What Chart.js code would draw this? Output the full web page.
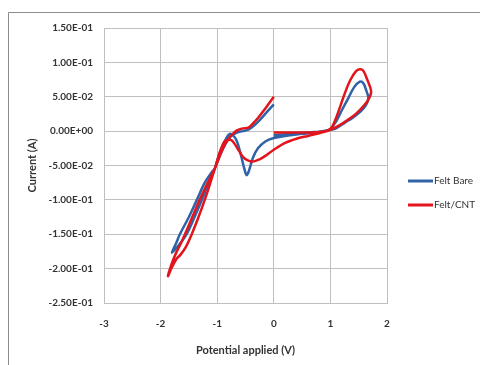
<!DOCTYPE html>
<html>
<head>
<meta charset="utf-8">
<script src="https://cdn.jsdelivr.net/npm/chart.js@4/dist/chart.umd.min.js"></script>
<style>
  html, body { margin: 0; padding: 0; background: #fff; }
  #wrap { position: relative; width: 480px; height: 365px; }
  canvas { display: block; }
</style>
</head>
<body>
<div id="wrap"><canvas id="c" width="480" height="365"></canvas></div>
<script>
// ---- Data ----
const seriesNames = ["Felt Bare", "Felt/CNT"];
const yTickValues = [-0.25, -0.2, -0.15, -0.1, -0.05, 0, 0.05, 0.1, 0.15];
const xTickValues = [-3, -2, -1, 0, 1, 2];

const bareV = [0, 0.3, 0.6, 0.9, 1.0, 1.1, 1.2, 1.31, 1.42, 1.52, 1.58, 1.63, 1.67, 1.63, 1.55,
  1.4, 1.25, 1.1, 1.0, 0.8, 0.5, 0.2, 0, -0.15, -0.28, -0.37, -0.44, -0.48, -0.52, -0.58,
  -0.65, -0.72, -0.78, -0.85, -0.95, -1.04, -1.15, -1.27, -1.4, -1.54, -1.67, -1.8, -1.72, -1.66, -1.5,
  -1.36, -1.22, -1.1, -1.04, -0.95, -0.85, -0.75, -0.65, -0.55, -0.45, -0.35, -0.25, -0.12, 0];
const bareI = [-0.006, -0.004, -0.002, 0.0, 0.003, 0.014, 0.03, 0.047, 0.064, 0.072, 0.07, 0.06, 0.048, 0.038, 0.03,
  0.02, 0.012, 0.004, 0.002, -0.001, -0.004, -0.007, -0.01, -0.015, -0.025, -0.039, -0.058, -0.064, -0.055, -0.035,
  -0.015, -0.006, -0.004, -0.012, -0.03, -0.054, -0.075, -0.1, -0.125, -0.15, -0.165, -0.177, -0.162, -0.15, -0.125,
  -0.1, -0.075, -0.06, -0.054, -0.035, -0.018, -0.007, -0.002, 0.0, 0.002, 0.008, 0.016, 0.028, 0.039];

const cntV = [0, 0.3, 0.6, 0.85, 1.0, 1.08, 1.17, 1.25, 1.35, 1.45, 1.52, 1.58, 1.65, 1.72, 1.68,
  1.6, 1.45, 1.3, 1.15, 1.0, 0.8, 0.6, 0.4, 0.2, 0, -0.15, -0.25, -0.35, -0.45, -0.55,
  -0.62, -0.68, -0.75, -0.82, -0.87, -0.95, -1.04, -1.12, -1.22, -1.33, -1.45, -1.55, -1.65, -1.72, -1.8,
  -1.87, -1.8, -1.72, -1.64, -1.57, -1.44, -1.31, -1.18, -1.04, -0.95, -0.85, -0.75, -0.65, -0.55, -0.45,
  -0.38, -0.28, -0.15, 0];
const cntI = [-0.002, -0.002, -0.002, -0.001, 0.003, 0.015, 0.035, 0.054, 0.074, 0.087, 0.09, 0.088, 0.075, 0.058, 0.047,
  0.038, 0.025, 0.016, 0.008, 0.002, -0.003, -0.007, -0.011, -0.017, -0.027, -0.036, -0.041, -0.044, -0.043, -0.037,
  -0.028, -0.02, -0.013, -0.013, -0.015, -0.03, -0.054, -0.075, -0.1, -0.125, -0.15, -0.168, -0.18, -0.186, -0.198,
  -0.211, -0.192, -0.176, -0.163, -0.15, -0.125, -0.1, -0.077, -0.054, -0.035, -0.017, -0.006, 0.001, 0.004, 0.005,
  0.01, 0.019, 0.033, 0.05];

// ---- helpers ----
function zip(xs, ys) { return xs.map((x, i) => ({ x: x, y: ys[i] })); }
function sci(v) {
  if (Math.abs(v) < 1e-12) return "0.00E+00";
  const s = v.toExponential(2).toUpperCase(); // e.g. 1.50E-1
  const m = s.match(/^(-?[\d.]+)E([+-])(\d+)$/);
  return m[1] + "E" + m[2] + (m[3].length < 2 ? "0" + m[3] : m[3]);
}

const FONT = "Lato, 'Open Sans', sans-serif";
const TXT = "#333333";
const GRID = "#bfbfbf";
const colors = ["#2f62a6", "#e3141b"];

const framePlugin = {
  id: "frame",
  beforeDraw(chart) {
    const ctx = chart.ctx;
    ctx.save();
    ctx.fillStyle = "#fff";
    ctx.fillRect(0, 0, chart.width, chart.height);
    ctx.strokeStyle = "#8c8c8c";
    ctx.lineWidth = 1;
    ctx.beginPath();
    ctx.moveTo(8.5, chart.height);
    ctx.lineTo(8.5, 12.5);
    ctx.lineTo(chart.width, 12.5);
    ctx.stroke();
    ctx.restore();
  }
};

const legendPlugin = {
  id: "customLegend",
  afterDraw(chart) {
    const ctx = chart.ctx;
    ctx.save();
    const rows = [181, 205];
    chart.data.datasets.forEach((ds, i) => {
      const y = rows[i];
      ctx.strokeStyle = ds.borderColor;
      ctx.lineWidth = 3;
      ctx.beginPath();
      ctx.moveTo(408, y);
      ctx.lineTo(433, y);
      ctx.stroke();
      ctx.fillStyle = TXT;
      ctx.font = "10px " + FONT;
      ctx.textBaseline = "middle";
      ctx.textAlign = "left";
      ctx.fillText(ds.label, 434, y);
    });
    ctx.restore();
  }
};

new Chart(document.getElementById("c"), {
  type: "scatter",
  data: {
    datasets: [
      {
        label: seriesNames[0],
        data: zip(bareV, bareI),
        showLine: true,
        borderColor: colors[0],
        backgroundColor: colors[0],
        borderWidth: 2.5,
        pointRadius: 0,
        tension: 0.35,
        fill: false,
        order: 1
      },
      {
        label: seriesNames[1],
        data: zip(cntV, cntI),
        showLine: true,
        borderColor: colors[1],
        backgroundColor: colors[1],
        borderWidth: 2.5,
        pointRadius: 0,
        tension: 0.35,
        fill: false,
        order: 0
      }
    ]
  },
  options: {
    responsive: false,
    animation: false,
    layout: { padding: { left: 0, top: 28, right: 93, bottom: 0 } },
    plugins: {
      legend: { display: false },
      tooltip: { enabled: false }
    },
    scales: {
      x: {
        type: "linear",
        min: -3, max: 2,
        afterBuildTicks(scale) { scale.ticks = xTickValues.map(v => ({ value: v })); },
        afterFit(scale) { scale.height = 62; },
        grid: { color: GRID, lineWidth: 1, drawTicks: false },
        border: { color: GRID, width: 1 },
        ticks: {
          padding: 15,
          color: TXT,
          font: { family: FONT, size: 10, weight: "bold" },
          callback: v => String(v)
        },
        title: {
          display: true,
          text: "Potential applied (V)",
          color: TXT,
          font: { family: FONT, size: 11, weight: "bold" },
          padding: { top: 0, bottom: 8 }
        }
      },
      y: {
        type: "linear",
        min: -0.25, max: 0.15,
        afterBuildTicks(scale) { scale.ticks = yTickValues.map(v => ({ value: v })); },
        afterFit(scale) { scale.width = 104; },
        grid: { color: GRID, lineWidth: 1, drawTicks: false },
        border: { color: GRID, width: 1 },
        ticks: {
          padding: 11,
          color: TXT,
          font: { family: FONT, size: 10, weight: "bold" },
          callback: v => sci(v)
        },
        title: {
          display: true,
          text: "Current (A)",
          color: TXT,
          font: { family: FONT, size: 11, weight: "bold" },
          padding: { top: 26, bottom: 0 }
        }
      }
    }
  },
  plugins: [framePlugin, legendPlugin]
});
</script>
</body>
</html>
